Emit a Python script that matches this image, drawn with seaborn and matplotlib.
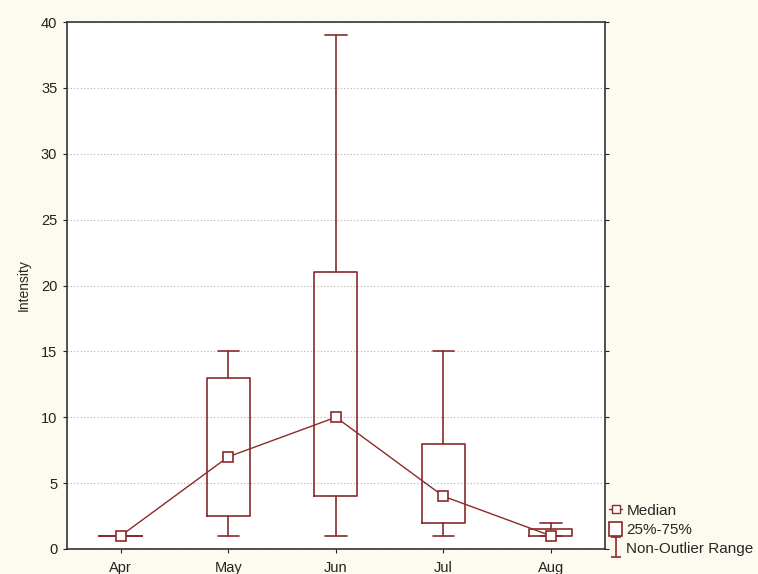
import numpy as np
import pandas as pd
import seaborn as sns
import matplotlib.pyplot as plt
from matplotlib.lines import Line2D
from matplotlib.patches import Rectangle
from matplotlib.path import Path

months = ['Apr', 'May', 'Jun', 'Jul', 'Aug']
medians = [1, 7, 10, 4, 1]
q1 = [1, 2.5, 4, 2, 1]
q3 = [1, 13, 21, 8, 1.5]
low = [1, 1, 1, 1, 1]
high = [1, 15, 39, 15, 2]

red = '#8b2a2a'
bg = '#fdfaf0'

sns.set_style('white')
plt.rcParams['font.family'] = ['Liberation Sans', 'DejaVu Sans']

fig = plt.figure(figsize=(7.58, 5.74), dpi=100, facecolor=bg)
ax = fig.add_axes([0.0884, 0.0436, 0.7094, 0.918])
ax.set_facecolor('white')

stats = []
for i, m in enumerate(months):
    stats.append(dict(med=medians[i], q1=q1[i], q3=q3[i],
                      whislo=low[i], whishi=high[i], fliers=[], label=m))

ax.bxp(stats, positions=range(len(months)), widths=0.4, showfliers=False,
       boxprops=dict(color=red, linewidth=1.2),
       whiskerprops=dict(color=red, linewidth=1.2),
       capprops=dict(color=red, linewidth=1.2),
       medianprops=dict(linewidth=0), capwidths=0.2)

df = pd.DataFrame({'month': months, 'median': medians, 'pos': range(len(months))})
sns.lineplot(data=df, x='pos', y='median', ax=ax, color=red, linewidth=1,
             marker='s', markersize=7, markerfacecolor='white',
             markeredgecolor=red, markeredgewidth=1.2, zorder=5)

ax.set_xlim(-0.5, 4.5)
ax.set_ylim(0, 40)
ax.set_xticks(range(len(months)))
ax.set_xticklabels(months)
ax.set_yticks(range(0, 41, 5))
ax.set_xlabel('')
ax.set_ylabel('Intensity', fontsize=10, labelpad=7)
ax.yaxis.grid(True, linestyle=(0, (1, 2)), color='#b0b0b0', linewidth=0.8)
ax.set_axisbelow(True)
ax.tick_params(axis='both', labelsize=10.5, length=3, colors='#222222',
               left=True, bottom=True, right=True, top=False)
ax.tick_params(axis='x', pad=6)
ax.tick_params(axis='y', pad=4)
for s in ax.spines.values():
    s.set_color('#333333')
    s.set_linewidth(1.2)

ibeam = Path([(-0.5, 1), (0.5, 1), (0, 1), (0, -1), (-0.5, -1), (0.5, -1)],
             [Path.MOVETO, Path.LINETO, Path.MOVETO, Path.LINETO, Path.MOVETO, Path.LINETO])
handles = [
    Line2D([0], [0], color=red, linewidth=1, marker='s', markersize=6,
           markerfacecolor='white', markeredgecolor=red),
    Rectangle((0, 0), 1, 1, facecolor='white', edgecolor=red, linewidth=1.2),
    Line2D([0], [0], linestyle='none', marker=ibeam, markersize=14,
           markeredgecolor=red, markeredgewidth=1.2),
]
fig.legend(handles, ['Median', '25%-75%', 'Non-Outlier Range'],
           loc='lower left', bbox_to_anchor=(0.795, 0.02), frameon=False,
           fontsize=11, handlelength=0.9, handleheight=1.05,
           handletextpad=0.25, labelspacing=0.25, borderaxespad=0)

fig.savefig('out.png', dpi=100, facecolor=bg)
